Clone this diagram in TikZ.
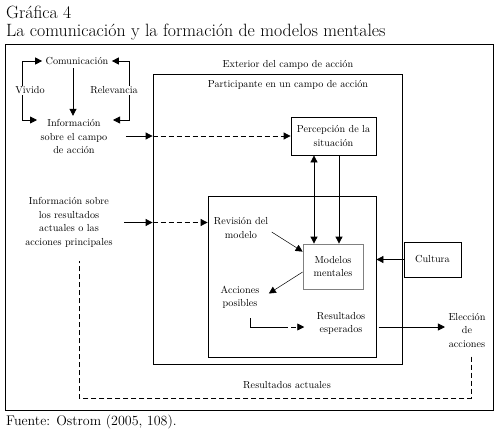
\documentclass[tikz,border=0pt]{standalone}
\usepackage{tikz}
\usetikzlibrary{arrows.meta}
\tikzset{
  caja/.style={draw, line width=0.8pt, inner sep=0pt},
  texto/.style={align=center, font=\fontsize{10.2}{13.5}\selectfont},
  flecha/.style={line width=0.8pt, -{Triangle[length=7pt,width=7pt]}},
  dobleflecha/.style={line width=0.8pt, {Triangle[length=7pt,width=7pt]}-{Triangle[length=7pt,width=7pt]}},
  guion/.style={dash pattern=on 5pt off 3pt},
  rotulo/.style={texto, fill=white, inner sep=1pt}
}
\begin{document}
\begin{tikzpicture}[x=1pt,y=-1pt]
    \useasboundingbox (0,0) rectangle (498,434);
    % titulo y fuente
    \node[anchor=base west, inner sep=0pt, font=\fontsize{17.8}{18}\selectfont] (titulo) at (6,18) {Gráfica 4};
    \node[anchor=base west, inner sep=0pt, font=\fontsize{17.8}{18}\selectfont] (subtitulo) at (6,36) {La comunicación y la formación de modelos mentales};
    \node[anchor=base west, inner sep=0pt, font=\fontsize{14}{16}\selectfont] (fuente) at (6,425) {Fuente: Ostrom (2005, 108).};
    % marcos
    \node[caja, minimum width=488pt, minimum height=366pt] (marco) at (249,227) {};
    \node[caja, minimum width=249pt, minimum height=290pt] (part) at (277.5,219) {};
    \node[caja, minimum width=168pt, minimum height=161pt] (interior) at (292,276.5) {};
    \node[texto] (exterior) at (288,65) {Exterior del campo de acción};
    \node[texto] (partlbl) at (288,85) {Participante en un campo de acción};
    % cajas
    \node[caja, texto, minimum width=85pt, minimum height=38pt] (perc) at (333.5,136) {Percepción de la\\situación};
    \node[caja, texto, draw=gray, minimum width=60pt, minimum height=45pt] (mod) at (333,266.5) {Modelos\\mentales};
    \node[caja, texto, minimum width=57pt, minimum height=35pt] (cult) at (432.5,259.5) {Cultura};
    % textos
    \node[texto] (com) at (77,61) {Comunicación};
    \node[texto] (infocampo) at (74,136.5) {Información\\sobre el campo\\de acción};
    \node[texto] (inforesult) at (69,222.5) {Información sobre\\los resultados\\actuales o las\\acciones principales};
    \node[texto] (revision) at (241,228) {Revisión del\\modelo};
    \node[texto] (acciones) at (240,297.5) {Acciones\\posibles};
    \node[texto] (resesp) at (341,323.5) {Resultados\\esperados};
    \node[texto] (eleccion) at (467,330) {Elección\\de\\acciones};
    \node[texto] (resact) at (287,385) {Resultados actuales};
    % comunicacion
    \coordinate (ltop) at (22,61);
    \coordinate (lbot) at (22,120);
    \coordinate (rtop) at (129,61);
    \coordinate (rbot) at (129,120);
    \draw[dobleflecha] (com.west) -- (ltop) -- node[rotulo, xshift=8pt] (vivido) {Vivido} (lbot) -- (37,120);
    \draw[dobleflecha] (com.east) -- (rtop) -- node[rotulo, xshift=-15pt] (relev) {Relevancia} (rbot) -- (113,120);
    \draw[flecha] ([xshift=-4pt]com.south) -- ([xshift=-4pt]com.south |- infocampo.north);
    % entradas
    \draw[flecha] ([xshift=15pt]infocampo.east |- perc.west) -- (perc.west -| part.west);
    \draw[flecha, guion] (perc.west -| part.west) -- (perc.west);
    \draw[flecha] ([xshift=8pt]inforesult.east) -- (inforesult.east -| part.west);
    \draw[flecha, guion] (inforesult.east -| part.west) -- (inforesult.east -| interior.west);
    % percepcion y modelos
    \draw[dobleflecha] ([xshift=-19.5pt]perc.south) -- ([xshift=-19.5pt]perc.south |- mod.north);
    \draw[flecha] ([xshift=5.5pt]perc.south) -- ([xshift=5.5pt]perc.south |- mod.north);
    \draw[flecha, line width=0.5pt] ([yshift=-4pt]revision.east) -- ([yshift=-8pt]mod.north west);
    \draw[flecha, line width=0.5pt] ([yshift=-5.5pt]mod.west) -- ([xshift=6pt,yshift=4pt]acciones.east);
    \draw[flecha] (cult.west) -- (cult.west -| interior.east);
    % resultados
    \coordinate (accmid) at (283,327);
    \draw[line width=0.8pt] ([xshift=10pt,yshift=-6pt]acciones.south) |- (accmid);
    \draw[flecha, guion] (accmid) -- ([xshift=-9pt]resesp.west |- accmid);
    \draw[flecha] ([xshift=10pt]resesp.east |- accmid) -- (accmid -| eleccion.west);
    \coordinate (lazo) at (0,398);
    \draw[line width=0.8pt, guion] ([xshift=4pt,yshift=-6pt]eleccion.south) |- ([xshift=10pt]lazo -| inforesult.south) -- ([xshift=10pt,yshift=-10pt]inforesult.south);
\end{tikzpicture}
\end{document}
